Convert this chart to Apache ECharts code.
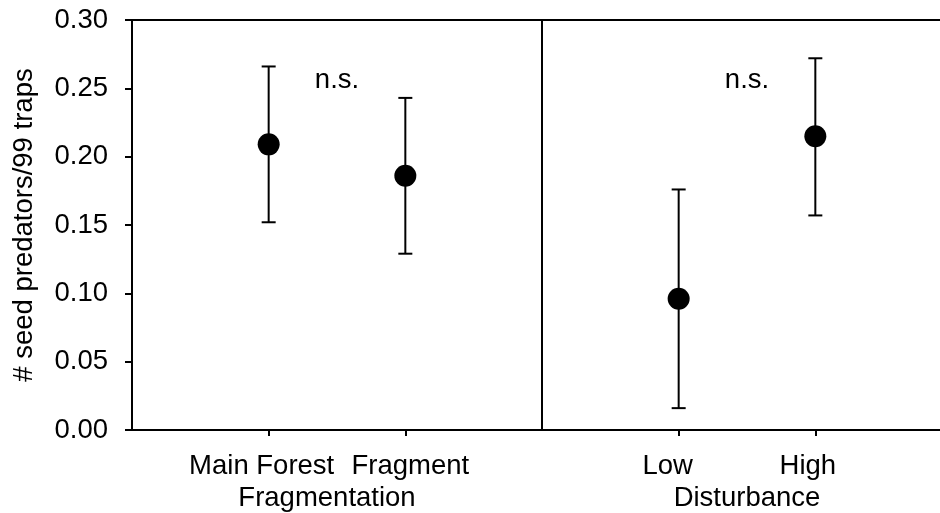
<!DOCTYPE html>
<html>
<head>
<meta charset="utf-8">
<script src="https://cdn.jsdelivr.net/npm/echarts@6/dist/echarts.min.js"></script>
<style>
  html, body { margin: 0; padding: 0; background: #fff; }
  #chart { width: 940px; height: 513px; }
</style>
</head>
<body>
<div id="chart"></div>
<script>
// panel 1: fragmentation
const fragLabels = ['Main Forest', 'Fragment'];
const fragMeans = [0.209, 0.186];
const fragLower = [0.152, 0.129];
const fragUpper = [0.266, 0.243];

// panel 2: disturbance
const distLabels = ['Low', 'High'];
const distMeans = [0.096, 0.215];
const distLower = [0.016, 0.157];
const distUpper = [0.176, 0.272];

const yTicks = [0, 0.05, 0.10, 0.15, 0.20, 0.25, 0.30];
const nsText = 'n.s.';
const nsY = 0.256;

const font = '"Liberation Sans", Arial, sans-serif';
const fs = 27.5;

const chart = echarts.init(document.getElementById('chart'));

const toPoints = (means) => means.map((m, i) => [i + 1, m]);
const toBars = (lo, hi) => lo.map((l, i) => [i + 1, l, hi[i]]);

const renderErr = (params, api) => {
  const x = api.value(0);
  const lo = api.coord([x, api.value(1)]);
  const hi = api.coord([x, api.value(2)]);
  const hw = 7;
  const style = { stroke: '#000', lineWidth: 2 };
  return {
    type: 'group',
    children: [
      { type: 'line', shape: { x1: lo[0], y1: lo[1], x2: hi[0], y2: hi[1] }, style },
      { type: 'line', shape: { x1: lo[0] - hw, y1: lo[1], x2: lo[0] + hw, y2: lo[1] }, style },
      { type: 'line', shape: { x1: hi[0] - hw, y1: hi[1], x2: hi[0] + hw, y2: hi[1] }, style }
    ]
  };
};

// the original tick labels are not quite centred on their ticks
const richLabel = (padL, padR) => ({ color: '#000', fontSize: fs, fontFamily: font, padding: [0, padR, 0, padL] });

const xAxisFor = (idx, labels, name, namePad, richKeys) => ({
  type: 'value',
  gridIndex: idx,
  min: 0,
  max: 3,
  interval: 1,
  name: name,
  nameLocation: 'middle',
  nameGap: 50,
  nameTextStyle: { color: '#000', fontSize: fs, fontFamily: font, padding: namePad },
  axisLine: { show: true, lineStyle: { color: '#000', width: 2 } },
  axisTick: { show: true, length: 6, customValues: [1, 2], lineStyle: { color: '#000', width: 2 } },
  axisLabel: {
    customValues: [1, 2],
    margin: 22,
    color: '#000',
    fontSize: fs,
    fontFamily: font,
    formatter: (v) => {
      const i = Math.round(v) - 1;
      if (!labels[i]) return '';
      return '{' + richKeys[i] + '|' + labels[i] + '}';
    },
    rich: {
      a: richLabel(0, 14),
      b: richLabel(10, 0),
      c: richLabel(0, 22),
      d: richLabel(0, 15)
    }
  },
  splitLine: { show: false }
});

const gridBase = { top: 20, bottom: 83, width: 410, show: true, borderColor: '#000', borderWidth: 2, containLabel: false, outerBoundsMode: 'none' };

const option = {
  animation: false,
  backgroundColor: '#fff',
  grid: [
    Object.assign({ left: 132 }, gridBase),
    Object.assign({ left: 542 }, gridBase)
  ],
  xAxis: [
    xAxisFor(0, fragLabels, 'Fragmentation', [0, 20, 0, 0], ['a', 'b']),
    xAxisFor(1, distLabels, 'Disturbance', [0, 0, 0, 0], ['c', 'd'])
  ],
  yAxis: [
    {
      type: 'value',
      gridIndex: 0,
      min: yTicks[0],
      max: yTicks[yTicks.length - 1],
      interval: 0.05,
      name: '# seed predators/99 traps',
      nameLocation: 'middle',
      nameGap: 94,
      nameTextStyle: { color: '#000', fontSize: fs, fontFamily: font },
      axisLine: { show: true, lineStyle: { color: '#000', width: 2 } },
      axisTick: { show: true, length: 7, lineStyle: { color: '#000', width: 2 } },
      axisLabel: {
        margin: 24,
        color: '#000',
        fontSize: fs,
        fontFamily: font,
        formatter: (v) => v.toFixed(2)
      },
      splitLine: { show: false }
    },
    {
      type: 'value',
      gridIndex: 1,
      min: yTicks[0],
      max: yTicks[yTicks.length - 1],
      interval: 0.05,
      show: false
    }
  ],
  series: [
    { type: 'custom', xAxisIndex: 0, yAxisIndex: 0, renderItem: renderErr, data: toBars(fragLower, fragUpper), z: 2 },
    { type: 'custom', xAxisIndex: 1, yAxisIndex: 1, renderItem: renderErr, data: toBars(distLower, distUpper), z: 2 },
    { type: 'scatter', xAxisIndex: 0, yAxisIndex: 0, symbol: 'circle', symbolSize: 22, itemStyle: { color: '#000', opacity: 1 }, data: toPoints(fragMeans), z: 3 },
    { type: 'scatter', xAxisIndex: 1, yAxisIndex: 1, symbol: 'circle', symbolSize: 22, itemStyle: { color: '#000', opacity: 1 }, data: toPoints(distMeans), z: 3 },
    {
      type: 'scatter', xAxisIndex: 0, yAxisIndex: 0, symbolSize: 0, silent: true,
      itemStyle: { opacity: 1 },
      label: { show: true, position: 'inside', formatter: nsText, color: '#000', fontSize: fs, fontFamily: font },
      data: [[1.5, nsY]]
    },
    {
      type: 'scatter', xAxisIndex: 1, yAxisIndex: 1, symbolSize: 0, silent: true,
      itemStyle: { opacity: 1 },
      label: { show: true, position: 'inside', formatter: nsText, color: '#000', fontSize: fs, fontFamily: font },
      data: [[1.5, nsY]]
    }
  ]
};

chart.setOption(option);
</script>
</body>
</html>
